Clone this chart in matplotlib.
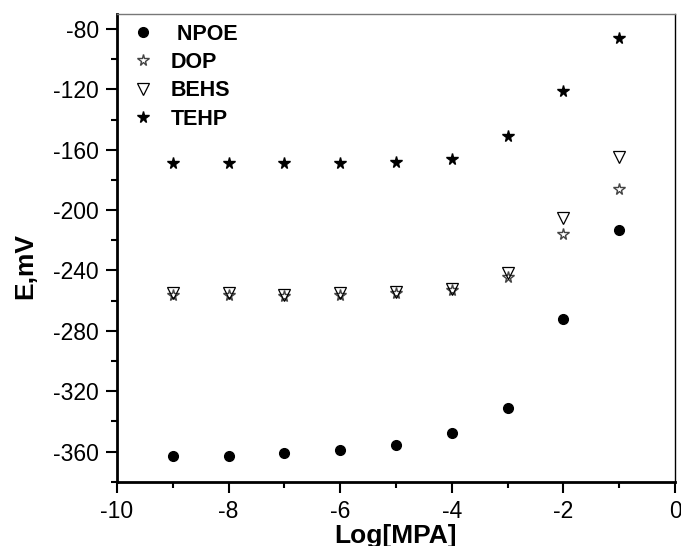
import matplotlib
matplotlib.use("Agg")
import matplotlib.pyplot as plt
from matplotlib.ticker import MultipleLocator

plt.rcParams['font.family'] = ['Liberation Sans', 'DejaVu Sans']
plt.rcParams['axes.unicode_minus'] = False

log_mpa = [-9, -8, -7, -6, -5, -4, -3, -2, -1]
npoe = [-363, -363, -361, -359, -356, -348, -331, -272, -213]
dop = [-256, -256, -257, -256, -255, -253, -244, -216, -186]
behs = [-255, -255, -256, -255, -254, -252, -242, -205, -165]
tehp = [-169, -169, -169, -169, -168, -166, -151, -121, -86]

fig = plt.figure(figsize=(6.81, 5.46), dpi=100)
ax = fig.add_axes([117/681, 1 - 481.7/546, 558/681, 467.7/546])

ax.plot(log_mpa, npoe, linestyle='none', marker='o', markersize=7,
        color='black', label=' NPOE')
ax.plot(log_mpa, dop, linestyle='none', marker='*', markersize=8.5,
        markerfacecolor='white', markeredgecolor='#444444', markeredgewidth=1.0,
        label='DOP')
ax.plot(log_mpa, behs, linestyle='none', marker='v', markersize=9,
        markerfacecolor='none', markeredgecolor='black', markeredgewidth=0.9,
        label='BEHS')
ax.plot(log_mpa, tehp, linestyle='none', marker='*', markersize=8.5,
        color='black', label='TEHP')

ax.set_xlim(-10, 0)
ax.set_ylim(-380, -70)
ax.xaxis.set_major_locator(MultipleLocator(2))
ax.xaxis.set_minor_locator(MultipleLocator(1))
ax.yaxis.set_major_locator(MultipleLocator(40))
ax.yaxis.set_minor_locator(MultipleLocator(20))

ax.tick_params(axis='both', which='major', direction='out', length=8, width=1.5,
               labelsize=16.5, pad=5, top=False, right=False)
ax.tick_params(axis='both', which='minor', direction='out', length=4.5, width=1.5,
               top=False, right=False)

for s in ['left', 'bottom']:
    ax.spines[s].set_linewidth(2)
ax.spines['top'].set_linewidth(1)
ax.spines['top'].set_color('#777777')
ax.spines['right'].set_linewidth(1)

ax.set_xlabel('Log[MPA]', fontsize=19, fontweight='bold')
ax.xaxis.set_label_coords(0.5, (481.7 - 524) / 467.7)
ax.set_ylabel('E,mV', fontsize=19, fontweight='bold')
ax.yaxis.set_label_coords((37 - 117) / 558, (481.7 - 266) / 467.7)

leg = ax.legend(loc='upper left', frameon=False,
                prop={'weight': 'bold', 'size': 15.5},
                handletextpad=0.55, labelspacing=0.34, borderaxespad=0.1,
                handlelength=1.5, borderpad=0.35)

fig.savefig('out.png', dpi=100)
